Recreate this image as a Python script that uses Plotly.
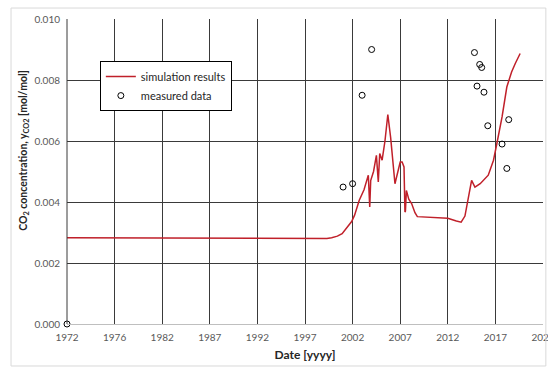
import plotly.graph_objects as go

# Simulation results (year, CO2 mol/mol)
sim_year = [1972.0, 1980.0, 1987.0, 1995.0, 1999.3, 1999.8, 2000.4, 2000.9, 2001.5, 2001.9,
            2002.2, 2002.7, 2003.2, 2003.65, 2003.8, 2003.9, 2004.2, 2004.5, 2004.7, 2004.85,
            2005.1, 2005.4, 2005.7, 2006.0, 2006.45, 2006.8, 2007.0, 2007.2, 2007.4, 2007.5,
            2007.55, 2007.65, 2007.9, 2008.2, 2008.55, 2008.8, 2010.0, 2012.0, 2012.9, 2013.4,
            2013.8, 2014.1, 2014.5, 2014.85, 2015.4, 2016.25, 2016.8, 2017.15, 2017.7, 2018.2,
            2018.7, 2019.1, 2019.6]
sim_val = [0.00283, 0.00282, 0.00281, 0.00280, 0.00280, 0.00283, 0.00288, 0.00296, 0.00318, 0.00336,
           0.00356, 0.00406, 0.00440, 0.00488, 0.00384, 0.00470, 0.00500, 0.00553, 0.00466, 0.00559,
           0.00537, 0.00600, 0.00687, 0.00610, 0.00460, 0.00500, 0.00531, 0.00531, 0.00515, 0.00367,
           0.00370, 0.00438, 0.00409, 0.00395, 0.00365, 0.00352, 0.00350, 0.00347, 0.00338, 0.00334,
           0.00354, 0.00410, 0.00471, 0.00449, 0.00460, 0.00488, 0.00537, 0.00591, 0.00679, 0.00777,
           0.00826, 0.00855, 0.00887]

# Measured data
meas_year = [1972.0, 2001.0, 2002.0, 2003.0, 2004.0, 2014.8, 2015.35, 2015.56, 2015.07, 2015.8,
             2016.2, 2018.4, 2017.7, 2018.2]
meas_val = [0.0000, 0.00449, 0.00460, 0.00750, 0.00900, 0.00890, 0.00851, 0.00841, 0.00780, 0.00760,
            0.00650, 0.00670, 0.00590, 0.00510]

tick_years = [1972, 1977, 1982, 1987, 1992, 1997, 2002, 2007, 2012, 2017, 2022]
tick_text = ["1972", "1976", "1982", "1987", "1992", "1997", "2002", "2007", "2012", "2017", "2022"]
y_ticks = [0.000, 0.002, 0.004, 0.006, 0.008, 0.010]

FONT = "Lato, 'Open Sans', sans-serif"

fig = go.Figure()
fig.add_trace(go.Scatter(x=sim_year, y=sim_val, mode="lines", name="simulation results",
                         line=dict(color="#C0202A", width=1.5)))
fig.add_trace(go.Scatter(x=meas_year, y=meas_val, mode="markers", name="measured data",
                         marker=dict(symbol="circle-open", size=6, color="black",
                                     line=dict(width=1, color="black")),
                         cliponaxis=False))

fig.update_layout(
    template="none",
    width=548, height=368,
    margin=dict(l=67, r=5, t=19, b=44),
    paper_bgcolor="white", plot_bgcolor="white",
    font=dict(family=FONT, size=10, color="#595959"),
    showlegend=True,
    legend=dict(x=0.069, y=0.862, xanchor="left", yanchor="top",
                bordercolor="black", borderwidth=1, bgcolor="white",
                font=dict(size=11, color="#262626", family=FONT),
                tracegroupgap=0, itemwidth=30),
    xaxis=dict(range=[1972, 2022], tickmode="array", tickvals=tick_years, ticktext=tick_text,
               showgrid=True, gridcolor="#3a3a3a", gridwidth=1, zeroline=False,
               showline=True, linecolor="#BFBFBF", linewidth=1, ticks="",
               ticklabeloverflow="allow", ticklabelstandoff=4,
               tickfont=dict(size=10, color="#595959"),
               title=dict(text="<b>Date [yyyy]</b>", font=dict(size=12, color="#262626"), standoff=8)),
    yaxis=dict(range=[0, 0.010], tickmode="array", tickvals=y_ticks,
               ticktext=[f"{v:.3f}" for v in y_ticks],
               showgrid=True, gridcolor="#3a3a3a", gridwidth=1, zeroline=False,
               showline=False, ticks="", ticklabelstandoff=6,
               tickfont=dict(size=10, color="#595959")),
    annotations=[dict(text="<b>CO<sub>2</sub> concentration, y<sub>CO2</sub> [mol/mol]</b>",
                      xref="paper", yref="paper", x=-0.091, y=0.57, textangle=-90,
                      xanchor="center", yanchor="middle", showarrow=False,
                      font=dict(size=10.5, color="#262626", family=FONT))],
)

# Left axis line (dark) at 1972
fig.add_shape(type="line", xref="paper", yref="paper", x0=0, x1=0, y0=0, y1=1,
              line=dict(color="#3a3a3a", width=1))
# Outer chart frame
fig.add_shape(type="rect", xref="paper", yref="paper",
              x0=-0.1176, x1=1.006, y0=-0.1377, y1=1.036,
              fillcolor="rgba(0,0,0,0)",
              line=dict(color="#D9D9D9", width=1), layer="above")

fig.write_html("out.html")
